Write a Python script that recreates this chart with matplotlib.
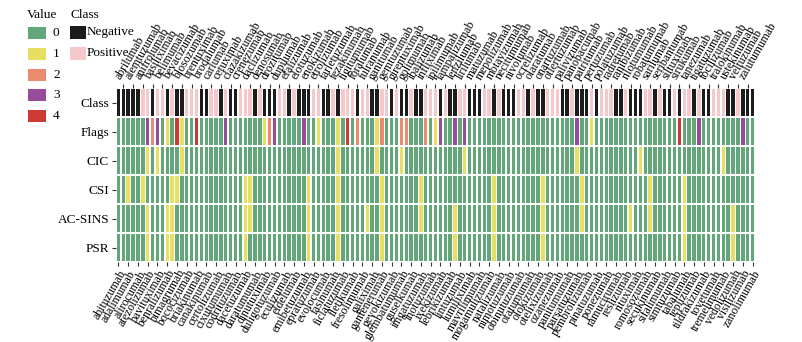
import numpy as np
import matplotlib.pyplot as plt
from matplotlib.patches import Rectangle

plt.rcParams['font.family'] = ['Liberation Serif', 'DejaVu Serif']

# antibodies in column order (even index -> label at bottom, odd -> label at top)
antibodies = [
    'abituzumab', 'abrilumab', 'adalimumab', 'alemtuzumab', 'alirocumab', 'anifrolumab',
    'atezolizumab', 'basiliximab', 'bavituximab', 'belimumab', 'benralizumab', 'bevacizumab',
    'bimagrumab', 'blosozumab', 'bococizumab', 'brentuximab', 'briakinumab', 'brodalumab',
    'canakinumab', 'carlumab', 'certolizumab', 'cetuximab', 'cixutumumab', 'clazakizumab',
    'codrituzumab', 'crenezumab', 'dacetuzumab', 'daclizumab', 'daratumumab', 'denosumab',
    'dinutuximab', 'drozitumab', 'duligotuzumab', 'dupilumab', 'eculizumab', 'efalizumab',
    'eldelumab', 'elotuzumab', 'emibetuzumab', 'enokizumab', 'epratuzumab', 'etrolizumab',
    'evolocumab', 'farletuzumab', 'fasinumab', 'fezakinumab', 'ficlatuzumab', 'figitumumab',
    'fletikumab', 'foralumab', 'fresolimumab', 'fulranumab', 'galiximab', 'ganitumab',
    'gantenerumab', 'gemtuzumab', 'gevokizumab', 'girentuximab', 'glembatumumab', 'golimumab',
    'guselkumab', 'ibalizumab', 'imgatuzumab', 'infliximab', 'inotuzumab', 'ipilimumab',
    'ixekizumab', 'lampalizumab', 'lebrikizumab', 'lenzilumab', 'lintuzumab', 'lirilumab',
    'lumiliximab', 'matuzumab', 'mavrilimumab', 'mepolizumab', 'mogamulizumab', 'motavizumab',
    'natalizumab', 'necitumumab', 'nimotuzumab', 'nivolumab', 'obinutuzumab', 'ocrelizumab',
    'ofatumumab', 'olaratumab', 'olokizumab', 'onartuzumab', 'otelixizumab', 'otlertuzumab',
    'ozanezumab', 'palivizumab', 'panitumumab', 'panobacumab', 'parsatuzumab', 'patritumab',
    'pembrolizumab', 'pertuzumab', 'pinatuzumab', 'polatuzumab', 'ponezumab', 'radretumab',
    'ramucirumab', 'ranibizumab', 'reslizumab', 'rilotumumab', 'rituximab', 'robatumumab',
    'romosozumab', 'sarilumab', 'secukinumab', 'seribantumab', 'sifalimumab', 'siltuximab',
    'simtuzumab', 'sirukumab', 'tabalumab', 'tanezumab', 'teplizumab', 'tigatuzumab',
    'tildrakizumab', 'tocilizumab', 'tovetumab', 'tralokinumab', 'tremelimumab', 'ustekinumab',
    'vedolizumab', 'veltuzumab', 'visilizumab', 'zalutumumab', 'zanolimumab',
]

# 0 = Negative, 1 = Positive
cls = [int(c) for c in (
    "0000011011" "0100111001" "1010011101" "0001101000" "1100101110"
    "1100110100" "1001110100" "1100011010" "0011010011" "1001000101"
    "1100100011" "0100101101" "0011100100" "0")]

# 0..4 counts
flags = [int(c) for c in (
    "0000003230" "1041004000" "0030000000" "1230000030" "0100010402"
    "0001200022" "0002013003" "0300000000" "0000000000" "0000300100"
    "0000000000" "0000040003" "0000000030" "0")]
cic = [int(c) for c in (
    "0000001010" "0001000000" "0000000000" "0000000000" "0000010000"
    "0001000010" "0000000000" "0100000000" "0000000000" "0000100000"
    "0000000100" "0000000000" "0000100000" "0")]
csi = [int(c) for c in (
    "0010010000" "0110000000" "0000001100" "0000000001" "0000010000"
    "0000100000" "0010000000" "0000000100" "0000000100" "0000010000"
    "0000000001" "0000001000" "0000000000" "0")]
acsins = [int(c) for c in (
    "0000001000" "1100000000" "0000001100" "0000000001" "0000010000"
    "0100100000" "0010000001" "0000000100" "0000000100" "0000010000"
    "0000010001" "0000001000" "0000001000" "0")]
psr = [int(c) for c in (
    "0000001000" "1100000000" "0000001000" "0000000001" "0000010000"
    "0000100000" "0000000001" "0000000100" "0000000100" "0000000000"
    "0000000000" "0000001000" "0000001000" "0")]

row_names = ['Class', 'Flags', 'CIC', 'CSI', 'AC-SINS', 'PSR']
row_data = [cls, flags, cic, csi, acsins, psr]

value_labels = ['0', '1', '2', '3', '4']
value_colors = ['#62a67a', '#e6df62', '#ea8a6e', '#974c9b', '#cd3a36']
class_labels = ['Negative', 'Positive']
class_colors = ['#1c1c1c', '#f5c8cc']

W, H = 803, 342
fig = plt.figure(figsize=(W / 100, H / 100), dpi=100)
ax = fig.add_axes([116 / W, 1 - 262 / H, (755 - 116) / W, 174 / H])

n = len(antibodies)
x = np.arange(n)
for r, (name, vals) in enumerate(zip(row_names, row_data)):
    pal = class_colors if name == 'Class' else value_colors
    ax.bar(x, 0.9, bottom=r - 0.45, width=0.7,
           color=[pal[v] for v in vals], linewidth=0)

ax.set_xlim(-0.5, n - 0.5)
ax.set_ylim(len(row_names) - 0.5, -0.5)
for s in ax.spines.values():
    s.set_visible(False)

ax.set_yticks(range(len(row_names)))
ax.set_yticklabels(row_names, fontsize=9.5)
ax.tick_params(axis='y', length=3, width=0.8, color='#333333', pad=2)

# bottom labels: even columns
ax.set_xticks(x[::2])
ax.set_xticklabels(antibodies[::2], rotation=60, ha='right',
                   rotation_mode='anchor', fontsize=8.5)
ax.tick_params(axis='x', length=3, width=0.8, color='#333333', pad=1.5)

# top labels: odd columns
ax2 = ax.twiny()
ax2.set_xlim(ax.get_xlim())
ax2.set_xticks(x[1::2])
ax2.set_xticklabels(antibodies[1::2], rotation=60, ha='left',
                    rotation_mode='anchor', fontsize=8.5)
ax2.tick_params(axis='x', length=3, width=0.8, color='#333333', pad=1.5)
for s in ax2.spines.values():
    s.set_visible(False)

# legends, drawn in pixel coordinates
lg = fig.add_axes([0, 0, 1, 1], zorder=-1)
lg.set_xlim(0, W)
lg.set_ylim(H, 0)
lg.axis('off')

lg.text(27, 15, 'Value', fontsize=9.5, va='center', ha='left')
for i, (lab, c) in enumerate(zip(value_labels, value_colors)):
    y0 = 27 + i * 20.8
    lg.add_patch(Rectangle((28, y0), 18, 12, facecolor=c, edgecolor='none'))
    lg.text(53, y0 + 6, lab, fontsize=9.5, va='center', ha='left')

lg.text(71, 15, 'Class', fontsize=9.5, va='center', ha='left')
for i, (lab, c) in enumerate(zip(class_labels, class_colors)):
    y0 = 26 + i * 21
    lg.add_patch(Rectangle((70, y0), 16, 13, facecolor=c, edgecolor='none'))
    lg.text(87, y0 + 6.5, lab, fontsize=9.5, va='center', ha='left')

fig.savefig('out.png', dpi=100)
